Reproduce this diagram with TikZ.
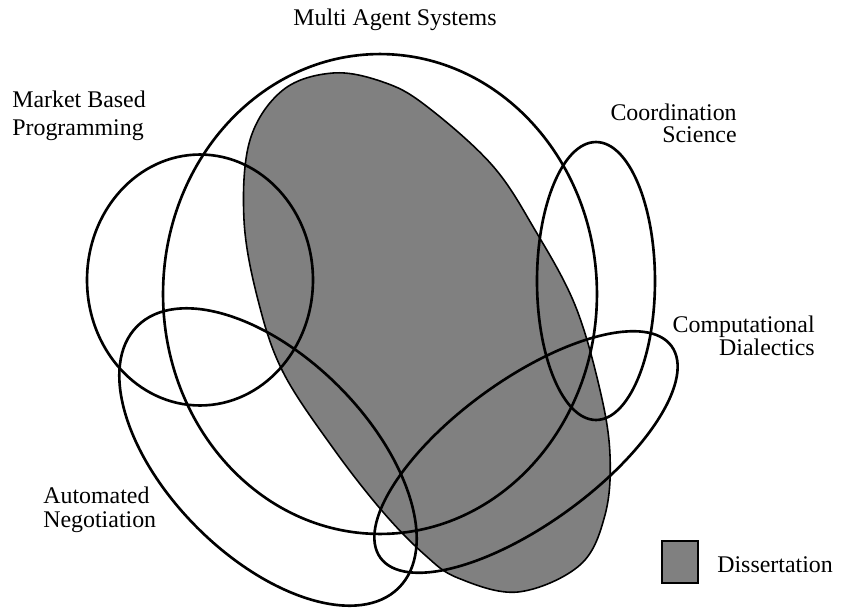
\documentclass[tikz,border=0pt]{standalone}
\usepackage{fontspec}
\setmainfont{Liberation Serif}
\begin{document}
\begin{tikzpicture}[x=0.02cm,y=-0.02cm,
  region/.style={draw=black,line width=1.5pt},
  thesis/.style={fill=diss,draw=black,line width=0.9pt},
  lbl/.style={inner sep=0pt,font=\fontsize{13.6}{16}\selectfont}]
\definecolor{diss}{HTML}{808080}
\useasboundingbox (0,0) rectangle (850,609);

% dissertation area
\filldraw[thesis] plot[smooth cycle,tension=0.6] coordinates {
  (333,73) (383,82) (425,105) (492,165) (535,230) (575,305) (600,390)
  (610,455) (605,515) (580,565) (518,592) (458,578) (425,555) (383,512)
  (333,448) (283,372) (258,300) (244,220) (250,140) (283,90)};

% multi agent systems
\draw[region] (380,294) ellipse [x radius=4.34cm, y radius=4.8cm];
% market based programming
\draw[region] (200,280) ellipse [x radius=2.26cm, y radius=2.51cm];
% coordination science
\draw[region] (596,281) ellipse [x radius=1.18cm, y radius=2.78cm];
% automated negotiation
\draw[region,rotate around={-45:(268,457)}] (268,457)
  ellipse [x radius=3.7cm, y radius=2.0cm];
% computational dialectics
\draw[region,rotate around={36:(526,452)}] (526,452)
  ellipse [x radius=3.6cm, y radius=1.44cm];

% labels
\node[lbl,anchor=base] (mas) at (395,25) {Multi Agent Systems};
\node[lbl,anchor=base west] (mbp1) at (12,107) {Market Based};
\node[lbl,anchor=base west] (mbp2) at (12,135) {Programming};
\node[lbl,anchor=base east] (cs1) at (737,120) {Coordination};
\node[lbl,anchor=base east] (cs2) at (737,142) {Science};
\node[lbl,anchor=base east] (cd1) at (815,332) {Computational};
\node[lbl,anchor=base east] (cd2) at (815,355) {Dialectics};
\node[lbl,anchor=base west] (an1) at (43,503) {Automated};
\node[lbl,anchor=base west] (an2) at (43,527) {Negotiation};

% legend
\filldraw[fill=diss,draw=black,line width=1.6pt] (662,541) rectangle (698,583);
\node[lbl,anchor=base west] (key) at (717,572) {Dissertation};
\end{tikzpicture}
\end{document}
